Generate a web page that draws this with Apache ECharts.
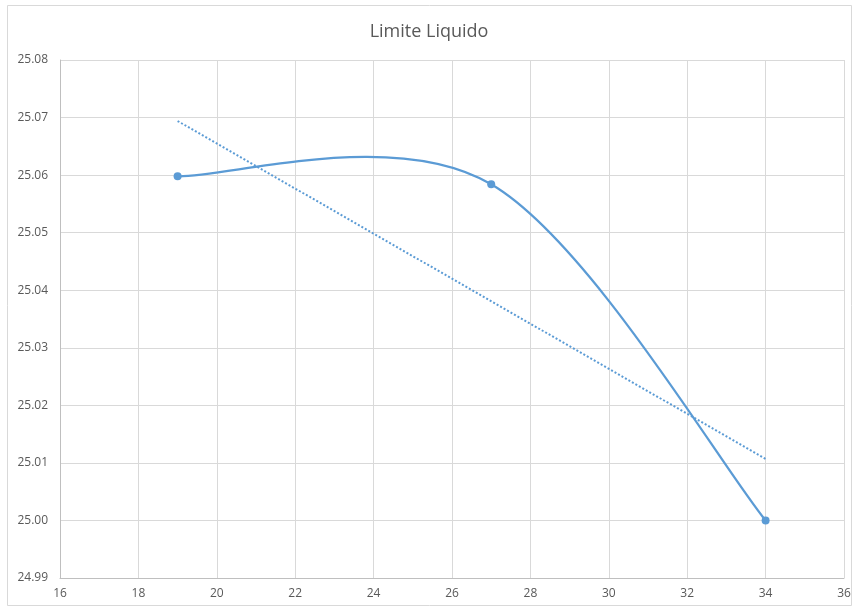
<!DOCTYPE html>
<html><head><meta charset="utf-8">
<script src="https://cdn.jsdelivr.net/npm/echarts@6/dist/echarts.min.js"></script>
<style>html,body{margin:0;padding:0;background:#fff}#c{width:858px;height:610px}</style>
</head><body><div id="c"></div>
<script>
var xValues = [19, 27, 34];
var yValues = [25.0598, 25.0584, 25.0000];
var trendX = [19, 34];
var trendY = [25.0694, 25.0107];
var titleText = 'Limite Liquido';

var chart = echarts.init(document.getElementById('c'));
var font = 'Open Sans, Liberation Sans, sans-serif';
var pts = xValues.map(function(x,i){return [x, yValues[i]];});

function smoothPath(api) {
  var p = pts.map(function(d){return api.coord(d);});
  var n = p.length;
  var path = 'M' + p[0][0] + ' ' + p[0][1];
  for (var i = 0; i < n - 1; i++) {
    var p0 = p[Math.max(i - 1, 0)], p1 = p[i], p2 = p[i + 1], p3 = p[Math.min(i + 2, n - 1)];
    var c1x = p1[0] + (p2[0] - p0[0]) / 6, c1y = p1[1] + (p2[1] - p0[1]) / 6;
    var c2x = p2[0] - (p3[0] - p1[0]) / 6, c2y = p2[1] - (p3[1] - p1[1]) / 6;
    path += ' C' + c1x + ' ' + c1y + ' ' + c2x + ' ' + c2y + ' ' + p2[0] + ' ' + p2[1];
  }
  return path;
}

chart.setOption({
  animation: false,
  backgroundColor: '#fff',
  graphic: [{type: 'rect', shape: {x: 7.5, y: 5.5, width: 844, height: 600}, style: {fill: null, stroke: '#D9D9D9', lineWidth: 1}, silent: true}],
  title: {text: titleText, left: 'center', top: 18, textStyle: {fontFamily: font, fontSize: 18, fontWeight: 'normal', color: '#595959'}},
  grid: {left: 60, right: 14, top: 60, bottom: 32, containLabel: false},
  xAxis: {type: 'value', min: 16, max: 36, interval: 2,
    axisLine: {show: true, lineStyle: {color: '#BFBFBF'}}, axisTick: {show: false},
    axisLabel: {color: '#595959', fontFamily: font, fontSize: 12, margin: 10},
    splitLine: {show: true, lineStyle: {color: '#D9D9D9'}}},
  yAxis: {type: 'value', min: 24.99, max: 25.08, interval: 0.01,
    axisLine: {show: true, lineStyle: {color: '#BFBFBF'}}, axisTick: {show: false},
    axisLabel: {color: '#595959', fontFamily: font, fontSize: 12, margin: 12, formatter: function(v){return v.toFixed(2);}},
    splitLine: {show: true, lineStyle: {color: '#D9D9D9'}}},
  series: [
    {type: 'custom', data: [pts[0]], renderItem: function(params, api){
      return {type: 'path', shape: {pathData: smoothPath(api)},
        style: {fill: null, stroke: '#5B9BD5', lineWidth: 2.25}};
    }, z: 2},
    {type: 'line', data: trendX.map(function(x,i){return [x, trendY[i]];}), symbol: 'none',
     lineStyle: {color: '#5B9BD5', width: 2, type: [2, 2]}, z: 1},
    {type: 'scatter', data: pts, symbol: 'circle', symbolSize: 8, itemStyle: {color: '#5B9BD5', opacity: 1}, z: 3}
  ]
});
</script></body></html>
